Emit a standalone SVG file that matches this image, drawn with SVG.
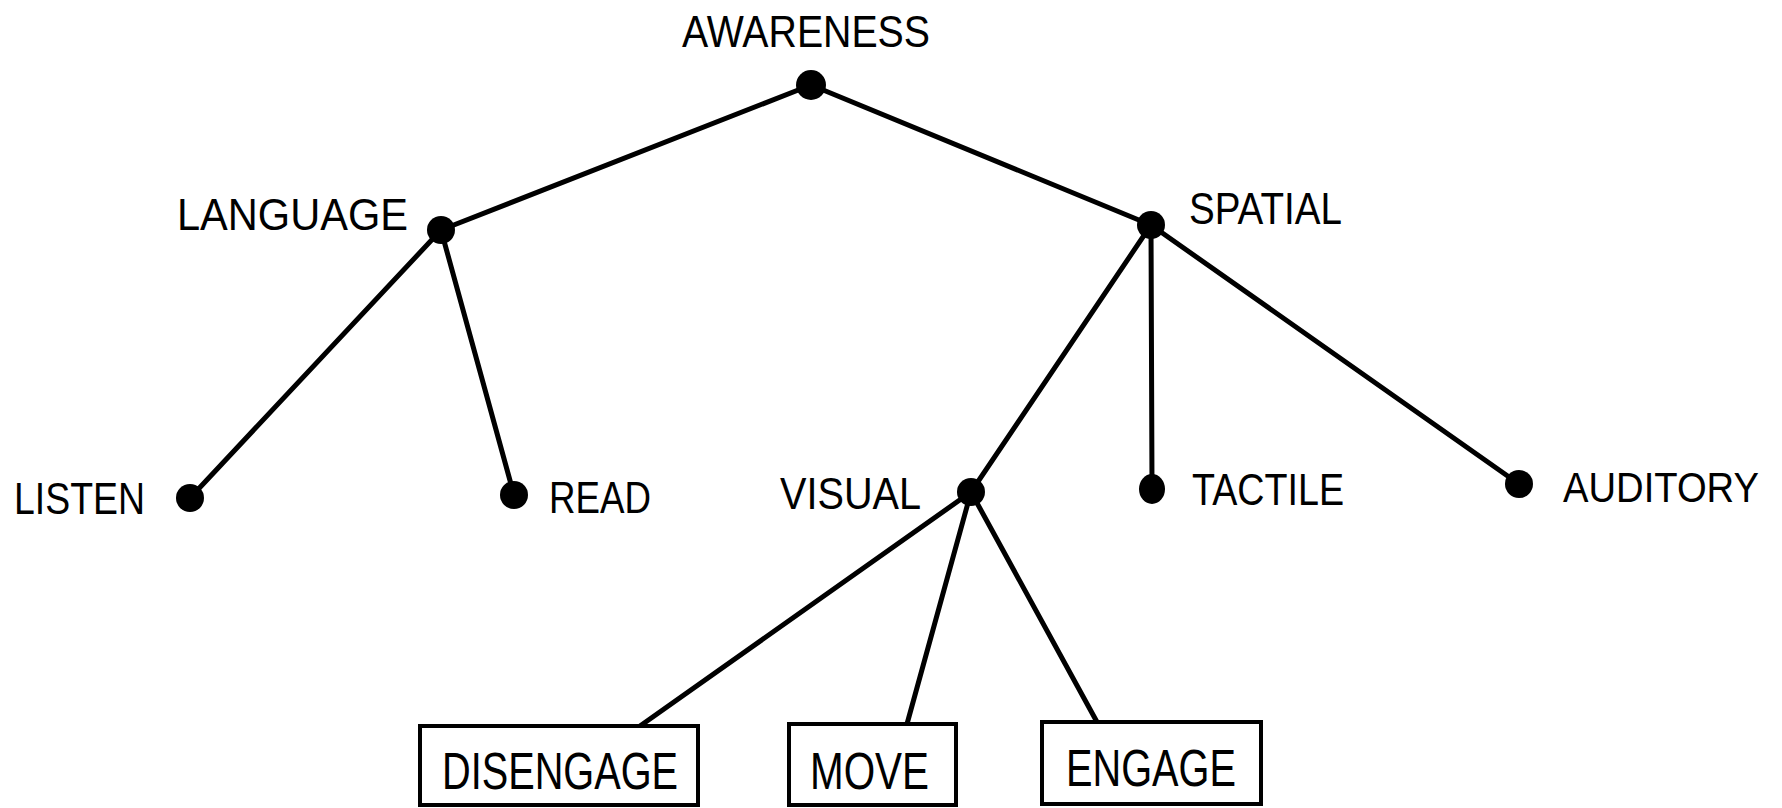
<svg xmlns="http://www.w3.org/2000/svg" width="1782" height="808" viewBox="0 0 1782 808">
<style>
.bg{fill:#fff}
.edge{stroke:#000;stroke-width:5;fill:none;stroke-linecap:round}
.dot{fill:#000}
.lbl{font-family:"Liberation Sans",Arial,sans-serif;font-size:45px;fill:#000}
.box{fill:#fff;stroke:#000;stroke-width:4}
.btxt{font-family:"Liberation Sans",Arial,sans-serif;font-size:52px;fill:#000}
</style>
<rect class="bg" x="0" y="0" width="1782" height="808"/>
<g id="connectors">
<line class="edge" x1="811" y1="85" x2="441" y2="230"/>
<line class="edge" x1="811" y1="85" x2="1151" y2="225"/>
<line class="edge" x1="441" y1="230" x2="190" y2="498"/>
<line class="edge" x1="441" y1="230" x2="514" y2="495"/>
<line class="edge" x1="1151" y1="225" x2="971" y2="492"/>
<line class="edge" x1="1151" y1="225" x2="1152" y2="489"/>
<line class="edge" x1="1151" y1="225" x2="1519" y2="484"/>
<line class="edge" x1="971" y1="492" x2="640" y2="726"/>
<line class="edge" x1="971" y1="492" x2="907" y2="724"/>
<line class="edge" x1="971" y1="492" x2="1097" y2="722"/>
</g>
<g id="awareness"><circle class="dot" cx="811" cy="85" r="15"/><text class="lbl" x="682" y="47" textLength="248" lengthAdjust="spacingAndGlyphs">AWARENESS</text></g>
<g id="language"><circle class="dot" cx="441" cy="230" r="14"/><text class="lbl" x="177" y="230" textLength="231" lengthAdjust="spacingAndGlyphs">LANGUAGE</text></g>
<g id="spatial"><circle class="dot" cx="1151" cy="225" r="14"/><text class="lbl" x="1189" y="224" textLength="153" lengthAdjust="spacingAndGlyphs">SPATIAL</text></g>
<g id="listen"><circle class="dot" cx="190" cy="498" r="14"/><text class="lbl" x="14" y="514" textLength="131" lengthAdjust="spacingAndGlyphs">LISTEN</text></g>
<g id="read"><circle class="dot" cx="514" cy="495" r="14"/><text class="lbl" x="549" y="513" textLength="102" lengthAdjust="spacingAndGlyphs">READ</text></g>
<g id="visual"><circle class="dot" cx="971" cy="492" r="14"/><text class="lbl" x="780" y="509" textLength="141" lengthAdjust="spacingAndGlyphs">VISUAL</text></g>
<g id="tactile"><ellipse class="dot" cx="1152" cy="489" rx="13" ry="15"/><text class="lbl" x="1192" y="505" textLength="152" lengthAdjust="spacingAndGlyphs">TACTILE</text></g>
<g id="auditory"><circle class="dot" cx="1519" cy="484" r="14"/><text class="lbl" x="1563" y="502" font-size="42" style="font-size:42px" textLength="196" lengthAdjust="spacingAndGlyphs">AUDITORY</text></g>
<g id="disengage"><rect class="box" x="420" y="726" width="278" height="79"/><text class="btxt" x="442" y="789" textLength="236" lengthAdjust="spacingAndGlyphs">DISENGAGE</text></g>
<g id="move"><rect class="box" x="789" y="724" width="167" height="81"/><text class="btxt" x="810" y="789" textLength="119" lengthAdjust="spacingAndGlyphs">MOVE</text></g>
<g id="engage"><rect class="box" x="1042" y="722" width="219" height="82"/><text class="btxt" x="1066" y="786" textLength="170" lengthAdjust="spacingAndGlyphs">ENGAGE</text></g>
</svg>
